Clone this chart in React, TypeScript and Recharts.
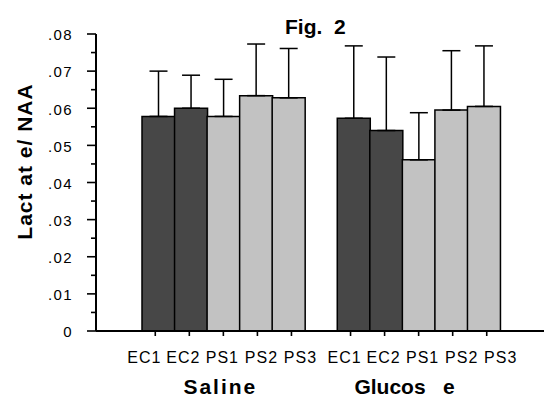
import { Bar, BarChart, Cell, ErrorBar, XAxis, YAxis } from "recharts";

// Laktat/NAA, Mittelwert + SD (nur nach oben)
const groups = ["Saline", "Glucos   e"];
const conditions = ["EC1", "EC2", "PS1", "PS2", "PS3"];
const salineMeans = [0.0578, 0.06, 0.0578, 0.0634, 0.0628];
const salineErrors = [0.0122, 0.0089, 0.01, 0.0139, 0.0133];
const glucoseMeans = [0.0573, 0.054, 0.0461, 0.0595, 0.0605];
const glucoseErrors = [0.0195, 0.0198, 0.0127, 0.016, 0.0163];
const yTicks = [
  0, 0.005, 0.01, 0.015, 0.02, 0.025, 0.03, 0.035, 0.04, 0.045, 0.05, 0.055,
  0.06, 0.065, 0.07, 0.075, 0.08,
];
const yTickLabels = ["0", ".01", ".02", ".03", ".04", ".05", ".06", ".07", ".08"];

const FONT = "'Liberation Sans', Arial, sans-serif";
const DARK = "#474747";
const LIGHT = "#c2c2c2";

// 5 Balken, Lücke, 5 Balken
const data = [
  ...conditions.map((c, i) => ({ cat: c, mean: salineMeans[i], err: [0, salineErrors[i]] })),
  { cat: "", mean: null, err: null },
  ...conditions.map((c, i) => ({ cat: c, mean: glucoseMeans[i], err: [0, glucoseErrors[i]] })),
];

const groupAt: Record<number, { text: string; dx: number; ls: number }> = {
  2: { text: groups[0], dx: -3, ls: 2 },
  8: { text: groups[1], dx: -14, ls: 0 },
};

function YTick(props: any) {
  const { x, y, index } = props;
  const major = index % 2 === 0;
  return (
    <g>
      <line x1={x - (major ? 9 : 5)} x2={x} y1={y} y2={y} stroke="#000" strokeWidth={1.6} />
      {major && (
        <text
          x={x - 23}
          y={y}
          dy="0.42em"
          textAnchor="end"
          fontSize={15}
          letterSpacing={1.4}
          fontFamily={FONT}
          fill="#000"
        >
          {yTickLabels[index / 2]}
        </text>
      )}
    </g>
  );
}

function XTick(props: any) {
  const { x, y, payload, index } = props;
  const g = groupAt[index];
  // Beschriftungen im Original etwas auseinandergezogen
  const pos = index % 6;
  const shift = index < 5 ? -1 : 4;
  return (
    <g>
      {payload.value && (
        <>
          <line
            x1={x + (pos - 2) * 1.5}
            x2={x + (pos - 2) * 1.5}
            y1={y}
            y2={y + 5}
            stroke="#000"
            strokeWidth={1.6}
          />
          <text
            x={x + (pos - 2) * 6.5 + shift}
            y={y + 32}
            textAnchor="middle"
            fontSize={16}
            letterSpacing={1}
            fontFamily={FONT}
            fill="#000"
          >
            {payload.value}
          </text>
        </>
      )}
      {g && (
        <text
          x={x + g.dx}
          y={y + 63}
          textAnchor="middle"
          fontSize={21}
          fontWeight="bold"
          letterSpacing={g.ls}
          fontFamily={FONT}
          fill="#000"
          style={{ whiteSpace: "pre" }}
        >
          {g.text}
        </text>
      )}
    </g>
  );
}

export default function App() {
  return (
    <div style={{ position: "absolute", left: 0, top: 0, width: 545, height: 398, background: "#fff" }}>
      <BarChart
        width={545}
        height={398}
        data={data}
        margin={{ top: 34, right: 1, bottom: 0, left: 0 }}
        barCategoryGap={0}
        barGap={0}
      >
        <text
          x={285}
          y={34}
          fontSize={21}
          fontWeight="bold"
          fontFamily={FONT}
          fill="#000"
          style={{ whiteSpace: "pre" }}
        >
          Fig.  2
        </text>
        <XAxis
          dataKey="cat"
          height={67}
          interval={0}
          padding={{ left: 46, right: 44 }}
          axisLine={{ stroke: "#000", strokeWidth: 2 }}
          tickLine={false}
          tickSize={0}
          tickMargin={0}
          tick={<XTick />}
        />
        <YAxis
          width={96}
          domain={[0, 0.08]}
          ticks={yTicks}
          interval={0}
          axisLine={{ stroke: "#000", strokeWidth: 2 }}
          tickLine={false}
          tickSize={0}
          tickMargin={0}
          tick={<YTick />}
          label={{
            content: (p: any) => {
              const vb = p.viewBox;
              const cx = vb.x + 24;
              const cy = vb.y + vb.height / 2 - 21;
              return (
                <text
                  x={cx}
                  y={cy}
                  transform={`rotate(-90 ${cx} ${cy})`}
                  textAnchor="middle"
                  dy="0.36em"
                  fontSize={21}
                  fontWeight="bold"
                  letterSpacing={1}
                  fontFamily={FONT}
                  fill="#000"
                  style={{ whiteSpace: "pre" }}
                >
                  Lact at e/ NAA
                </text>
              );
            },
          }}
        />
        <Bar dataKey="mean" stroke="#000" strokeWidth={1.5} isAnimationActive={false}>
          {data.map((d, i) => (
            <Cell key={i} fill={d.cat.startsWith("EC") ? DARK : LIGHT} />
          ))}
          <ErrorBar dataKey="err" width={9} stroke="#000" strokeWidth={1.5} direction="y" />
        </Bar>
      </BarChart>
    </div>
  );
}
